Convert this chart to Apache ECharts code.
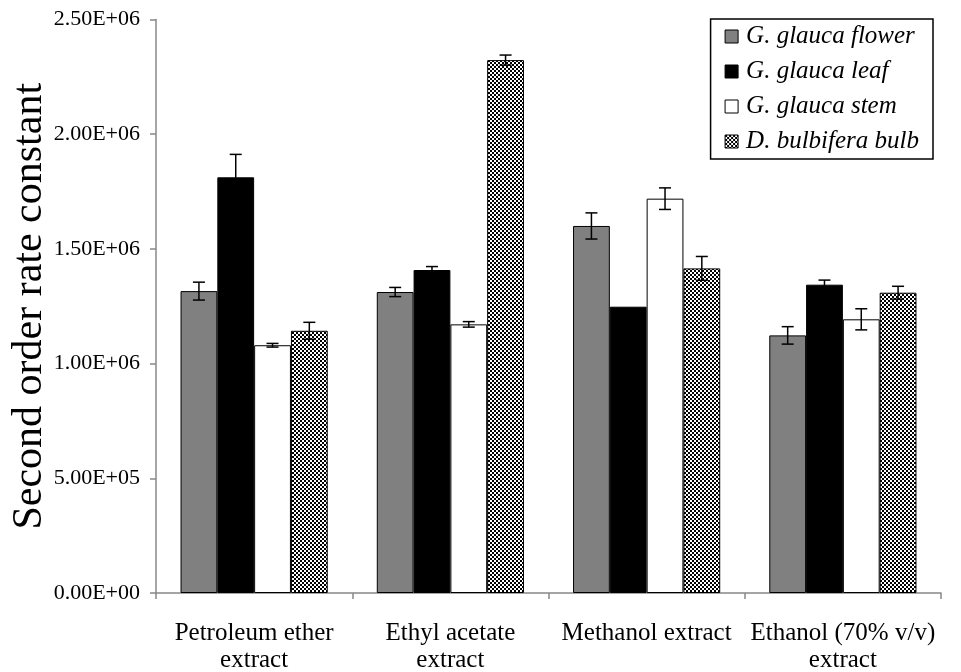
<!DOCTYPE html>
<html>
<head>
<meta charset="utf-8">
<script src="https://cdn.jsdelivr.net/npm/echarts@6/dist/echarts.min.js"></script>
<style>
  html, body { margin: 0; padding: 0; background: #fff; }
  #chart { width: 961px; height: 672px; }
</style>
</head>
<body>
<div id="chart"></div>
<script>
// Extract types on the x axis
const categories = ['Petroleum ether\nextract', 'Ethyl acetate\nextract', 'Methanol extract', 'Ethanol (70% v/v)\nextract'];

// Second order rate constants (mean) per plant part
const flower = [1316000, 1312000, 1600000, 1123000];
const leaf   = [1812000, 1408000, 1248000, 1344000];
const stem   = [1080000, 1171000, 1719000, 1193000];
const bulb   = [1143000, 2323000, 1415000, 1309000];

// Standard deviations
const flowerErr = [39000, 20000, 57000, 38000];
const leafErr   = [100000, 15000, 0, 20000];
const stemErr   = [8000, 12000, 47000, 46000];
const bulbErr   = [37000, 22000, 52000, 28000];

const seriesNames = ['G. glauca flower', 'G. glauca leaf', 'G. glauca stem', 'D. bulbifera bulb'];
const yTickLabels = ['0.00E+00', '5.00E+05', '1.00E+06', '1.50E+06', '2.00E+06', '2.50E+06'];

// checkerboard fill for the bulb bars
function checker() {
  const c = document.createElement('canvas');
  c.width = 4; c.height = 4;
  const g = c.getContext('2d');
  g.fillStyle = '#ffffff'; g.fillRect(0, 0, 4, 4);
  g.fillStyle = '#000000';
  g.fillRect(0, 0, 2, 2);
  g.fillRect(2, 2, 2, 2);
  return c;
}
const checkerFill = { image: checker(), repeat: 'repeat' };

const fills = ['#808080', '#000000', '#ffffff', checkerFill];
const values = [flower, leaf, stem, bulb];
const errors = [flowerErr, leafErr, stemErr, bulbErr];

const GAP = 0.25; // barCategoryGap fraction
const serif = 'Liberation Serif';

const chart = echarts.init(document.getElementById('chart'));

const barSeries = values.map((vals, i) => ({
  name: seriesNames[i],
  type: 'bar',
  data: vals,
  barGap: '0%',
  barCategoryGap: '25%',
  itemStyle: { color: fills[i], borderColor: '#000', borderWidth: 1 },
  z: 2
}));

const errSeries = values.map((vals, i) => ({
  name: seriesNames[i] + ' err',
  type: 'custom',
  data: vals.map((v, k) => [k, v, errors[i][k]]),
  z: 5,
  renderItem: function (params, api) {
    const k = api.value(0), v = api.value(1), e = api.value(2);
    if (!e) return null;
    const band = api.size([1, 0])[0];
    const bw = band * (1 - GAP) / 4;
    const center = api.coord([k, v]);
    const x = center[0] - 2 * bw + (i + 0.5) * bw;
    const yTop = api.coord([k, v + e])[1];
    const yBot = api.coord([k, v - e])[1];
    const cap = 6;
    const st = { stroke: '#000', lineWidth: 1.5 };
    return {
      type: 'group',
      children: [
        { type: 'line', shape: { x1: x, y1: yTop, x2: x, y2: yBot }, style: st },
        { type: 'line', shape: { x1: x - cap, y1: yTop, x2: x + cap, y2: yTop }, style: st },
        { type: 'line', shape: { x1: x - cap, y1: yBot, x2: x + cap, y2: yBot }, style: st }
      ]
    };
  }
}));

chart.setOption({
  animation: false,
  backgroundColor: '#fff',
  grid: { left: 156, right: 20, top: 19.5, bottom: 79, containLabel: false, outerBoundsMode: 'none' },
  legend: {
    data: seriesNames.map(n => ({ name: n, icon: 'rect' })),
    orient: 'vertical',
    right: 28,
    top: 19,
    padding: [5, 14, 5, 14],
    itemGap: 10,
    itemWidth: 13,
    itemHeight: 13,
    borderColor: '#000',
    borderWidth: 1.5,
    borderRadius: 0,
    backgroundColor: '#fff',
    textStyle: { fontFamily: serif, fontStyle: 'italic', fontSize: 25, lineHeight: 24, color: '#000', padding: [0, 0, 0, 3] },
    itemStyle: { borderColor: '#000', borderWidth: 1 }
  },
  xAxis: {
    type: 'category',
    data: categories,
    axisLine: { lineStyle: { color: '#888', width: 1.5 } },
    axisTick: { show: true, alignWithLabel: false, length: 6, lineStyle: { color: '#888', width: 1.5 } },
    axisLabel: { fontFamily: serif, fontSize: 25, color: '#000', margin: 27, lineHeight: 27, interval: 0 }
  },
  yAxis: {
    type: 'value',
    min: 0,
    max: 2500000,
    interval: 500000,
    name: 'Second order rate constant',
    nameLocation: 'middle',
    nameGap: 105,
    nameMoveOverlap: false,
    nameTextStyle: { fontFamily: serif, fontSize: 42, color: '#000' },
    axisLine: { show: true, lineStyle: { color: '#888', width: 1.5 } },
    axisTick: { show: true, length: 6, lineStyle: { color: '#888', width: 1.5 } },
    splitLine: { show: false },
    axisLabel: {
      fontFamily: serif, fontSize: 22, color: '#000', margin: 16,
      formatter: function (v) { return yTickLabels[Math.round(v / 500000)]; }
    }
  },
  series: barSeries.concat(errSeries)
});
</script>
</body>
</html>
